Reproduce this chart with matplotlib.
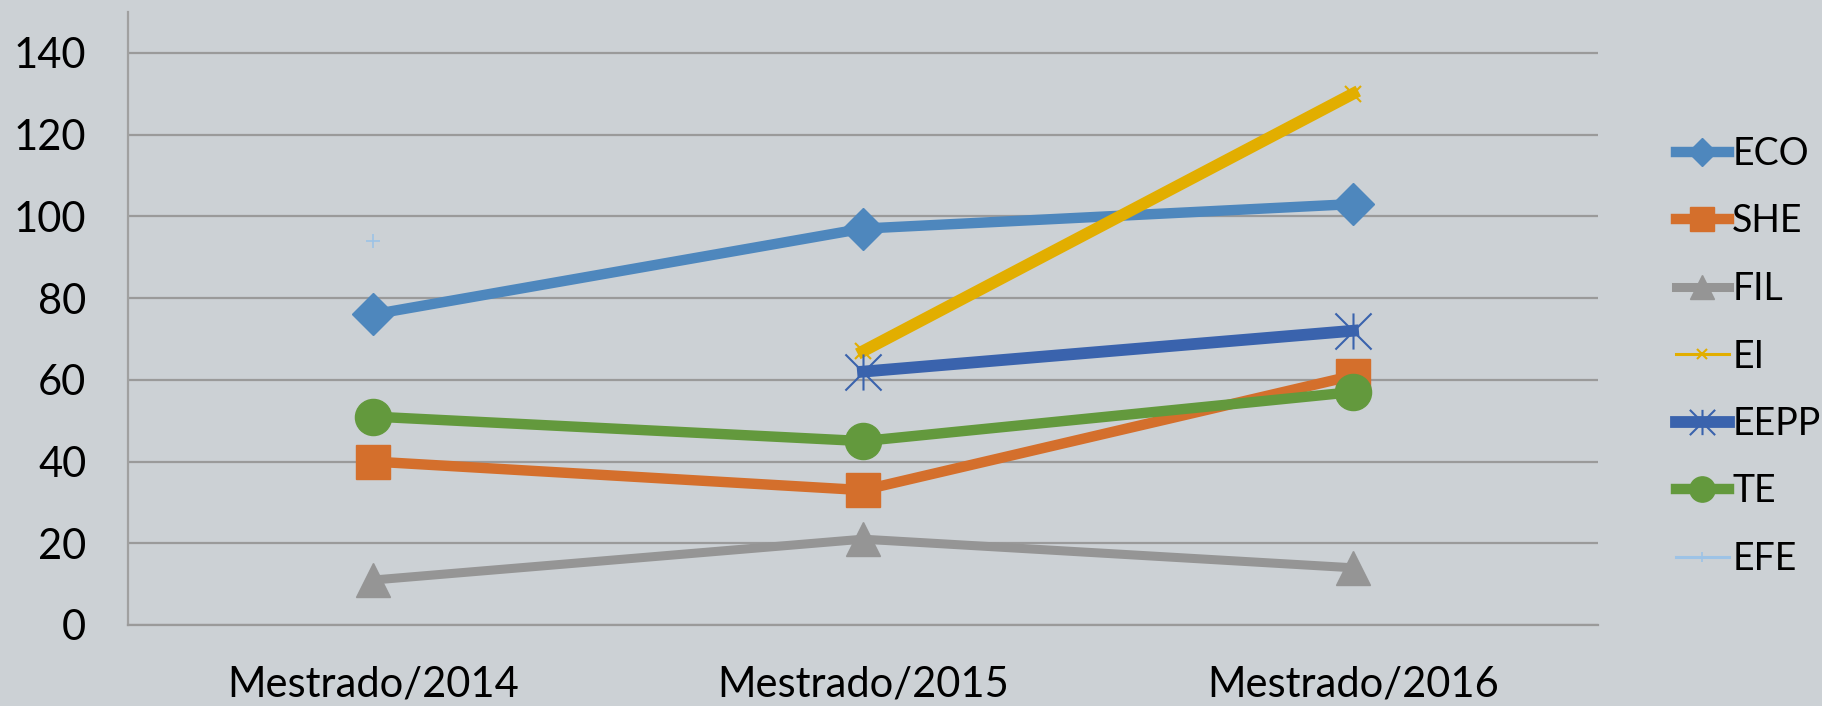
import matplotlib
matplotlib.use("Agg")
import matplotlib.pyplot as plt
from matplotlib.path import Path
import numpy as np

categorias = ["Mestrado/2014", "Mestrado/2015", "Mestrado/2016"]
eco = [76, 97, 103]
she = [40, 33, 61]
fil = [11, 21, 14]
ei = [np.nan, 67, 130]
eepp = [np.nan, 62, 72]
te = [51, 45, 57]
efe = [94, np.nan, np.nan]

plt.rcParams['font.family'] = ['Lato', 'DejaVu Sans']

bg = "#CCD1D5"
fig = plt.figure(figsize=(18.22, 7.06), dpi=100, facecolor=bg)
ax = fig.add_axes([128 / 1822, 81 / 706, 1470 / 1822, 613 / 706])
ax.set_facecolor(bg)

# marcador tipo asterisco (x + barra vertical)
asterisco = Path([(-1, -1), (1, 1), (-1, 1), (1, -1), (0, -1), (0, 1)],
                 [Path.MOVETO, Path.LINETO, Path.MOVETO, Path.LINETO, Path.MOVETO, Path.LINETO])

x = np.arange(len(categorias))
ax.plot(x, eco, color="#4E87BD", lw=7.5, marker="D", ms=21, label="ECO")
ax.plot(x, she, color="#D46F2C", lw=7.5, marker="s", ms=24, label="SHE")
ax.plot(x, fil, color="#959595", lw=6.5, marker="^", ms=24, label="FIL")
ax.plot(x, ei, color="#E2AE00", lw=8.5, marker="x", ms=11, mew=1.5, label="EI")
ax.plot(x, eepp, color="#3A63AD", lw=8.5, marker=asterisco, ms=26, mew=1.5, label="EEPP")
ax.plot(x, te, color="#63993D", lw=7.5, marker="o", ms=26, label="TE")
ax.plot(x, efe, color="#9DC3E6", lw=3, marker="+", ms=10, mew=1.2, label="EFE")

ax.set_xlim(-0.5, 2.5)
ax.set_ylim(0, 150)
ax.set_yticks(range(0, 141, 20))
ax.set_xticks(x)
ax.set_xticklabels(categorias)
ax.tick_params(axis="both", length=0, labelsize=30)
ax.tick_params(axis="y", pad=30)
ax.tick_params(axis="x", pad=29)
ax.grid(axis="y", color="#9A9A9A", lw=1.6)
ax.set_axisbelow(True)
for s in ["top", "right"]:
    ax.spines[s].set_visible(False)
ax.spines["left"].set_color("#A0A0A0")
ax.spines["left"].set_linewidth(1.6)
ax.spines["bottom"].set_color("#9A9A9A")
ax.spines["bottom"].set_linewidth(1.6)

leg = fig.legend(loc="upper left", bbox_to_anchor=(1676 / 1822, 1 - 136 / 706), frameon=False,
                 fontsize=27, handlelength=1.4, handletextpad=0.1, labelspacing=0.84,
                 markerscale=0.7, borderpad=0, borderaxespad=0)
# no Excel, EI e EFE aparecem com linha fina na legenda
for linha, texto in zip(leg.get_lines(), leg.get_texts()):
    if texto.get_text() in ("EI", "EFE"):
        linha.set_linewidth(2.2)

fig.savefig("out.png", dpi=100, facecolor=bg)
